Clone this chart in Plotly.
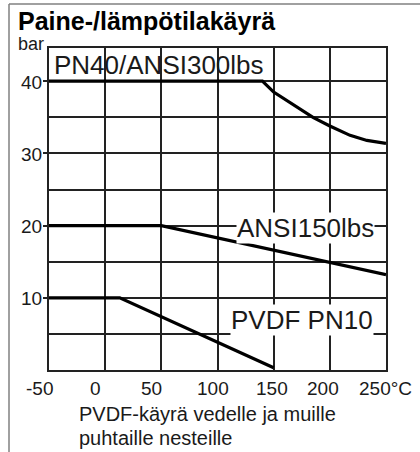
import plotly.graph_objects as go

# ---- data ----
pn40_temp = [-50, 140, 150, 160, 175, 185, 200, 218, 233, 250]
pn40_bar = [40, 40, 38.5, 37.5, 36.1, 35.0, 33.8, 32.5, 31.8, 31.4]

ansi150_temp = [-50, 50, 250]
ansi150_bar = [20, 20, 13.2]

pvdf_temp = [-50, 13, 150]
pvdf_bar = [10, 10, 0.3]

x_tick_vals = [-50, 0, 50, 100, 150, 200, 250]
x_tick_text = ["-50", "0", "50", "100", "150", "200", "250°C"]
y_tick_vals = [10, 20, 30, 40]
y_tick_text = ["10", "20", "30", "40"]
y_minor_vals = [5, 15, 25, 35]

series_labels = ["PN40/ANSI300lbs", "ANSI150lbs", "PVDF PN10"]
label_temp = [48, 178, 175]
label_bar = [42.3, 19.6, 6.9]

title_text = "Paine-/lämpötilakäyrä"
unit_text = "bar"
note_lines = ["PVDF-käyrä vedelle ja muille", "puhtaille nesteille"]

# ---- layout geometry (pixels) ----
W, H = 420, 452
L, R, T, B = 49, 386, 48, 370


def px(x):
    return (x - L) / (R - L)


def py(y):
    return (B - y) / (B - T)


FONT = "Liberation Sans, Arial, sans-serif"
TXT = "#1a1a1a"

fig = go.Figure()
for tx, by in [(pn40_temp, pn40_bar), (ansi150_temp, ansi150_bar), (pvdf_temp, pvdf_bar)]:
    fig.add_trace(go.Scatter(x=tx, y=by, mode="lines",
                             line=dict(color="black", width=3.2),
                             hoverinfo="skip", showlegend=False, cliponaxis=False))

annotations = []
# series labels
bgs = [None, "white", "white"]
for text, tx, by, bg in zip(series_labels, label_temp, label_bar, bgs):
    a = dict(x=tx, y=by, xref="x", yref="y", text=text, showarrow=False,
             font=dict(family=FONT, size=26, color=TXT), xanchor="center", yanchor="middle")
    if bg:
        a["bgcolor"] = bg
        a["borderpad"] = 0
    annotations.append(a)

# x tick labels
x_shifts = [-10, -10, -10, -5, -2, -7, -1]
for v, t, s in zip(x_tick_vals, x_tick_text, x_shifts):
    annotations.append(dict(x=v, y=py(388), xref="x", yref="paper", text=t, showarrow=False,
                            xshift=s, xanchor="center", yanchor="middle",
                            font=dict(family=FONT, size=19, color=TXT)))

# y tick labels
for v, t in zip(y_tick_vals, y_tick_text):
    annotations.append(dict(x=px(44), y=v, xref="paper", yref="y", text=t, showarrow=False,
                            xanchor="right", yanchor="middle", yshift=-1,
                            font=dict(family=FONT, size=19, color=TXT)))

# title
annotations.append(dict(x=px(16), y=py(21), xref="paper", yref="paper", text="<b>" + title_text + "</b>",
                        showarrow=False, xanchor="left", yanchor="middle",
                        font=dict(family=FONT, size=25, color="black")))
# unit
annotations.append(dict(x=px(46), y=py(44), xref="paper", yref="paper", text=unit_text,
                        showarrow=False, xanchor="right", yanchor="middle",
                        font=dict(family=FONT, size=18, color=TXT)))
# note
note_y = [414, 438]
for line, ny in zip(note_lines, note_y):
    annotations.append(dict(x=px(77), y=py(ny), xref="paper", yref="paper", text=line,
                            showarrow=False, xanchor="left", yanchor="middle",
                            font=dict(family=FONT, size=20, color=TXT)))

shapes = [
    dict(type="line", xref="paper", yref="paper", x0=px(9), x1=px(9), y0=py(4), y1=py(460),
         line=dict(color="#808080", width=1.5)),
    dict(type="line", xref="paper", yref="paper", x0=px(9), x1=px(425), y0=py(4), y1=py(4),
         line=dict(color="#808080", width=1.5)),
]

fig.update_layout(
    width=W, height=H,
    margin=dict(l=L, r=W - R, t=T, b=H - B),
    paper_bgcolor="white", plot_bgcolor="white",
    showlegend=False,
    annotations=annotations,
    shapes=shapes,
    xaxis=dict(range=[-50, 250], tickvals=x_tick_vals, showticklabels=False,
               showgrid=True, gridcolor="#222222", gridwidth=1.6,
               showline=True, mirror=True, linecolor="#222222", linewidth=1.6,
               ticks="", zeroline=False, fixedrange=True),
    yaxis=dict(range=[0, 44.6], tickvals=y_tick_vals, showticklabels=False,
               showgrid=True, gridcolor="#222222", gridwidth=1.6,
               minor=dict(tickvals=y_minor_vals, showgrid=True, gridcolor="#222222", gridwidth=1.6, ticks=""),
               showline=True, mirror=True, linecolor="#222222", linewidth=1.6,
               ticks="outside", ticklen=4, tickwidth=1.6, tickcolor="#222222",
               zeroline=False, fixedrange=True),
)

fig.write_html("out.html", config={"displayModeBar": False},
               post_script="document.body.style.margin='0';document.body.style.padding='0';")
